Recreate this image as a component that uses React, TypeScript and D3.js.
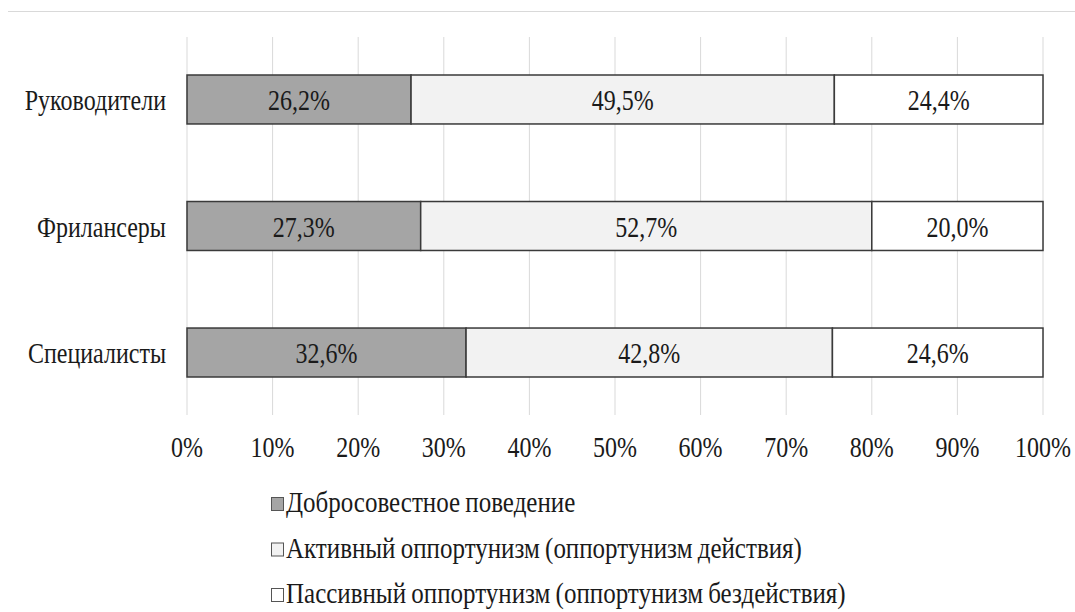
import React from 'react';
import * as d3 from 'd3';

const categories = ['Руководители', 'Фрилансеры', 'Специалисты'];
const seriesNames = [
  'Добросовестное поведение',
  'Активный оппортунизм (оппортунизм действия)',
  'Пассивный оппортунизм (оппортунизм бездействия)',
];
const conscientious = [26.2, 27.3, 32.6];
const activeOpp = [49.5, 52.7, 42.8];
const passiveOpp = [24.4, 20.0, 24.6];
const tickValues = [0, 10, 20, 30, 40, 50, 60, 70, 80, 90, 100];
const seriesColors = ['#a5a5a5', '#f2f2f2', '#ffffff'];

const W = 1075;
const H = 612;
const FONT = '"Liberation Serif"';
const SY = 1.22; // vertical stretch of the original text

const fmt = (v: number) => v.toFixed(1).replace('.', ',') + '%';

type TProps = { x: number; y: number; anchor?: string; children: React.ReactNode; size?: number; ws?: number };
const T = ({ x, y, anchor = 'start', children, size = 24, ws }: TProps) => (
  <text
    transform={`translate(${x},${y}) scale(1,${SY})`}
    textAnchor={anchor}
    fill="#1a1a1a"
    fontSize={size}
    style={{ fontFamily: FONT, wordSpacing: ws }}
  >
    {children}
  </text>
);

export default function App() {
  const x = d3.scaleLinear().domain([0, 100]).range([187, 1043]);
  const y = d3.scaleBand().domain(categories).range([49.7, 402.3]).paddingInner(0.613).paddingOuter(0.2);

  const rows = categories.map((c, i) => {
    const vals = [conscientious[i], activeOpp[i], passiveOpp[i]];
    const total = d3.sum(vals);
    let acc = 0;
    return {
      cat: c,
      segs: vals.map((v, k) => {
        const start = (acc / total) * 100;
        acc += v;
        const end = (acc / total) * 100;
        return { v, start, end, k };
      }),
    };
  });

  return (
    <svg width={W} height={H} style={{ position: 'absolute', left: 0, top: 0 }}>
      <rect x={0} y={0} width={W} height={H} fill="#fff" />
      <line x1={8} x2={W} y1={11.5} y2={11.5} stroke="#d9d9d9" strokeWidth={1} />
      {tickValues.map(t => (
        <g key={t}>
          <line x1={x(t)} x2={x(t)} y1={37} y2={415} stroke="#d9d9d9" strokeWidth={1} />
          <T x={x(t)} y={457} anchor="middle">{t}%</T>
        </g>
      ))}
      {rows.map(r => {
        const y0 = y(r.cat)!;
        const bh = y.bandwidth();
        return (
          <g key={r.cat}>
            <T x={166} y={y0 + bh / 2 + 10.5} anchor="end">{r.cat}</T>
            {r.segs.map(s => (
              <g key={s.k}>
                <rect
                  x={x(s.start)}
                  y={y0}
                  width={x(s.end) - x(s.start)}
                  height={bh}
                  fill={seriesColors[s.k]}
                  stroke="#3a3a3a"
                  strokeWidth={1.5}
                />
                <T x={(x(s.start) + x(s.end)) / 2} y={y0 + bh / 2 + 10.5} anchor="middle">{fmt(s.v)}</T>
              </g>
            ))}
          </g>
        );
      })}
      {seriesNames.map((n, i) => {
        const base = 512 + i * 45.5;
        return (
          <g key={n}>
            <rect x={271.5} y={base - 14.5} width={12} height={13} fill={seriesColors[i]} stroke="#555" strokeWidth={1} />
            <T x={286} y={base} size={25} ws={-1}>{n}</T>
          </g>
        );
      })}
    </svg>
  );
}
